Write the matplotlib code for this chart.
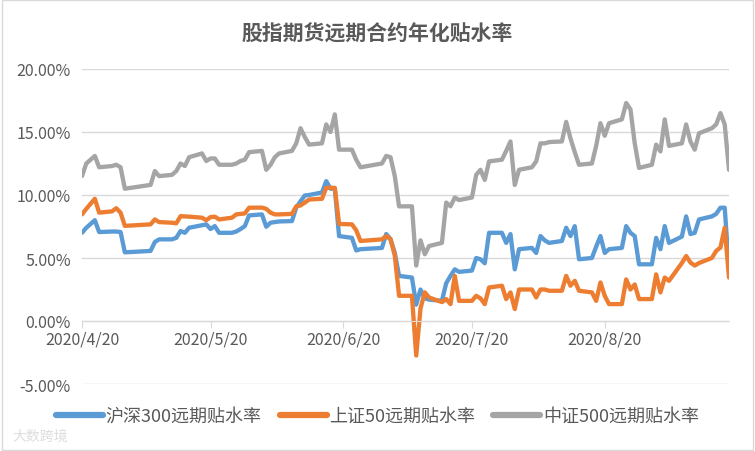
import matplotlib
matplotlib.use("Agg")
import matplotlib.pyplot as plt
import matplotlib.dates as mdates
from matplotlib.ticker import FuncFormatter
from matplotlib.patches import Rectangle
import pandas as pd

plt.rcParams['font.family'] = ['Noto Sans CJK SC', 'DejaVu Sans']

# trading days 2020/4/20 - 2020/9/18 (labour day & dragon boat holidays closed)
holidays = ['2020-05-01', '2020-05-04', '2020-05-05', '2020-06-25', '2020-06-26']
dates = pd.bdate_range('2020-04-20', '2020-09-18', freq='C', holidays=holidays)

# 沪深300 (IF)
hs300 = [7.0, 7.4, 7.7, 8.0, 7.06, 7.1, 7.1, 7.06, 5.45,
         5.56, 6.27, 6.48, 6.48, 6.6, 7.14, 7.0, 7.4, 7.6, 7.67, 7.3, 7.53, 7.0, 7.0, 7.1, 7.3, 7.53, 8.38,
         8.46, 7.48, 7.8, 7.85, 7.9, 7.93, 9.0, 9.5, 9.96, 10.0, 10.2, 11.1, 10.5, 10.5, 6.74, 6.6, 5.6, 5.7, 5.8, 6.9,
         6.5, 5.4, 3.58, 3.45, 1.3, 2.5, 1.8, 1.7, 1.6, 3.0, 3.58, 4.1, 3.9, 4.0, 5.0, 4.9, 4.58, 7.0, 7.0, 6.2, 6.9, 4.1, 5.7,
         5.8, 5.4, 6.74, 6.4, 6.2, 6.35, 7.4, 6.74, 7.53, 4.9, 5.0, 5.9, 6.74, 5.4, 5.7, 5.8, 7.53, 7.0, 6.74, 4.5, 4.5,
         6.6, 5.7, 7.53, 6.2, 6.7, 8.3, 6.9, 7.0, 8.06, 8.3, 8.5, 8.99, 8.99, 4.1]
# 上证50 (IH)
sz50 = [8.46, 8.9, 9.3, 9.7, 8.6, 8.7, 8.95, 8.6, 7.55,
        7.67, 8.06, 7.85, 7.8, 7.75, 8.32, 8.3, 8.28, 8.2, 8.0, 8.25, 8.28, 8.06, 8.2, 8.46, 8.5, 8.54, 8.99,
        9.0, 8.9, 8.6, 8.46, 8.46, 8.5, 9.1, 9.17, 9.4, 9.64, 9.7, 10.57, 10.57, 10.57, 7.7, 7.67, 7.2, 6.35, 6.48, 6.74,
        6.5, 5.2, 2.0, 2.0, -2.74, 1.0, 2.27, 1.87, 1.5, 1.74, 1.34, 3.58, 1.6, 1.6, 2.0, 1.8, 1.34, 2.66, 2.8, 1.74, 2.27, 0.95, 2.5,
        2.5, 1.87, 2.5, 2.5, 2.4, 2.4, 3.58, 2.8, 3.19, 2.4, 2.27, 1.6, 3.06, 2.0, 1.34, 1.34, 3.3, 2.5, 2.9, 1.74, 1.74,
        3.7, 2.27, 3.45, 3.19, 4.6, 5.16, 4.64, 4.4, 4.6, 5.0, 5.56, 5.83, 7.4, 3.45]
# 中证500 (IC)
zz500 = [11.5, 12.5, 12.8, 13.1, 12.2, 12.3, 12.4, 12.2, 10.5,
         10.8, 11.9, 11.5, 11.6, 11.9, 12.5, 12.3, 13.0, 13.3, 12.7, 12.9, 12.9, 12.4, 12.4, 12.5, 12.7, 12.8, 13.4,
         13.5, 12.0, 12.4, 13.0, 13.3, 13.5, 14.1, 15.3, 14.6, 14.0, 14.1, 15.6, 15.0, 16.4, 13.6, 13.6, 12.8, 12.2, 12.5, 13.1,
         13.0, 11.5, 9.1, 9.1, 4.4, 6.4, 5.3, 5.95, 6.2, 9.4, 9.1, 9.8, 9.6, 9.8, 11.6, 12.0, 11.2, 12.67, 12.8, 13.5, 14.25, 10.8, 12.0,
         12.2, 12.67, 14.1, 14.1, 14.2, 14.25, 15.8, 14.5, 13.4, 12.4, 12.5, 13.9, 15.7, 14.7, 15.7, 16.0, 17.3, 16.8, 14.1, 12.15, 12.4,
         14.0, 13.46, 16.0, 13.9, 14.1, 15.6, 14.25, 13.6, 14.9, 15.3, 15.6, 16.5, 15.6, 12.0]

labels = ['沪深300远期贴水率', '上证50远期贴水率', '中证500远期贴水率']
colors = ['#5B9BD5', '#ED7D31', '#A5A5A5']
tick_dates = ['2020-04-20', '2020-05-20', '2020-06-20', '2020-07-20', '2020-08-20']

fig = plt.figure(figsize=(7.55, 4.52), dpi=100)
ax = fig.add_axes([82 / 755, 1 - 385 / 452, (729 - 82) / 755, (385 - 70) / 452])

for ys, lab, c in zip([hs300, sz50, zz500], labels, colors):
    ax.plot(dates, ys, color=c, lw=3.1, label=lab, solid_joinstyle='round', solid_capstyle='round')

ax.set_ylim(-5, 20)
ax.set_yticks([-5, 0, 5, 10, 15, 20])
ax.yaxis.set_major_formatter(FuncFormatter(lambda v, p: f'{v:.2f}%'))
ax.set_xlim(dates[0], dates[-1])
ax.set_xticks(pd.to_datetime(tick_dates))
ax.xaxis.set_major_formatter(mdates.DateFormatter('%Y/%-m/%-d'))

ax.grid(axis='y', color='#D9D9D9', lw=1)
ax.set_axisbelow(True)
for s in ['top', 'right', 'left']:
    ax.spines[s].set_visible(False)
ax.spines['bottom'].set_position(('data', 0))
ax.spines['bottom'].set_color('#D9D9D9')
ax.tick_params(axis='y', length=0, labelsize=11.5, labelcolor='#595959', pad=8)
ax.tick_params(axis='x', length=5, color='#D9D9D9', labelsize=11.5, labelcolor='#595959', pad=2)

fig.text(0.5, 1 - 34 / 452, '股指期货远期合约年化贴水率', ha='center', va='center',
         fontsize=15, color='#595959', fontweight='bold')

leg = fig.legend(loc='center', bbox_to_anchor=(0.5, 1 - 417 / 452), ncol=3, frameon=False,
                 fontsize=13, labelcolor='#595959', handlelength=2.6, handletextpad=0.15,
                 columnspacing=1.0)
for h in leg.get_lines():
    h.set_linewidth(4.5)

fig.text(12 / 755, 1 - 437 / 452, '大数跨境', fontsize=10, color='#DDDDDD', va='center')
fig.patches.append(Rectangle((0.002, 0.003), 0.996, 0.994, transform=fig.transFigure,
                             fill=False, edgecolor='#D9D9D9', lw=1))

fig.savefig('out.png', dpi=100)
